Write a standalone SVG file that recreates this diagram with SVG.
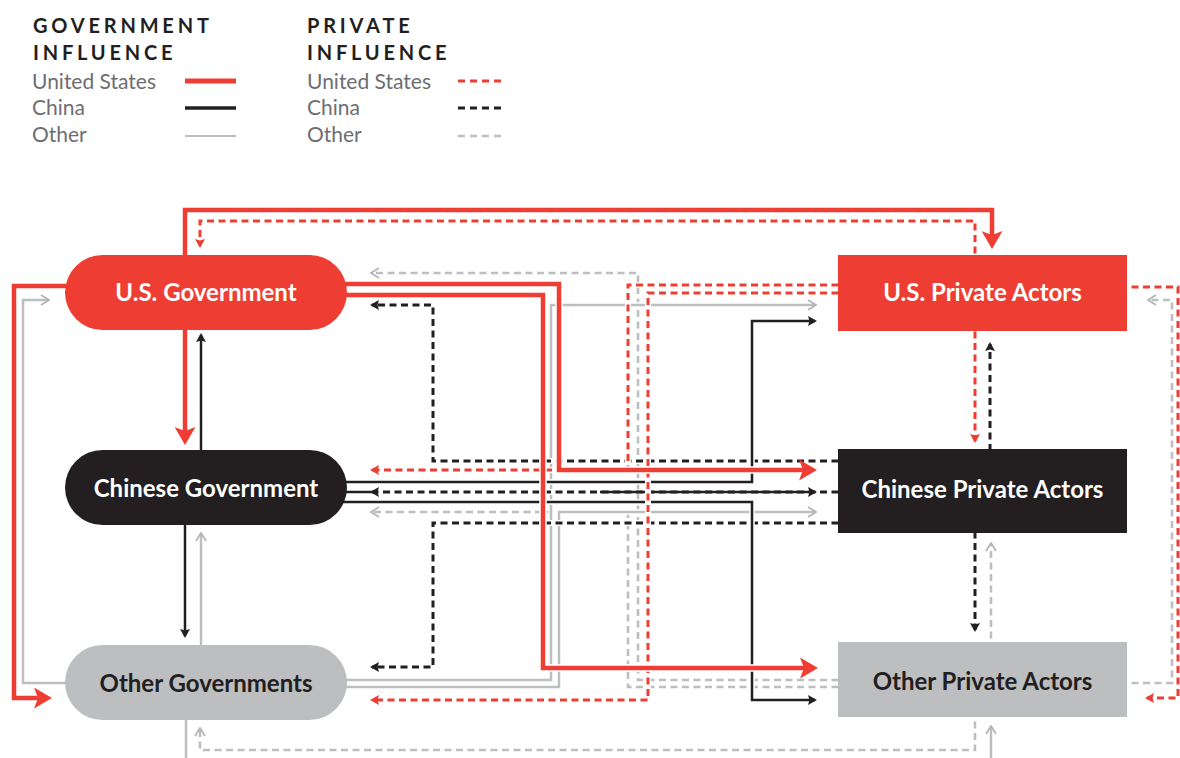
<svg xmlns="http://www.w3.org/2000/svg" width="1180" height="758" viewBox="0 0 1180 758">
<style>
  .hdr{font-family:Lato,"Liberation Sans",sans-serif;font-weight:700;font-size:20px;letter-spacing:3.8px;fill:#231f20}
  .lg{font-family:Lato,"Liberation Sans",sans-serif;font-size:21px;fill:#6d6e71}
  .lbl{font-family:Lato,"Liberation Sans",sans-serif;font-weight:700;font-size:24px;text-anchor:middle}
  .w{fill:#ffffff}
  .d{fill:#231f20}
  path{fill:none}
  .case{stroke:#ffffff}
  .cR{stroke-width:7.5}
  .cS{stroke-width:5.5}
  .cD{stroke-width:6}
  .rs{stroke:#ee3e33;stroke-width:4.5}
  .bs{stroke:#231f20;stroke-width:2.5}
  .gs{stroke:#bcbec0;stroke-width:2.5}
  .rd{stroke:#ee3e33;stroke-width:3;stroke-dasharray:7 4.5}
  .bd{stroke:#231f20;stroke-width:3;stroke-dasharray:7 4.5}
  .gd{stroke:#bcbec0;stroke-width:2.6;stroke-dasharray:7 4.5}
</style>
<defs>
  <marker id="mRB" markerUnits="userSpaceOnUse" viewBox="0 0 18 21" markerWidth="18" markerHeight="21" refX="13" refY="10.5" orient="auto">
    <path d="M0,0 L18,10.5 L0,21 L4,10.5 Z" style="fill:#ee3e33;stroke:none"/>
  </marker>
  <marker id="mB" markerUnits="userSpaceOnUse" viewBox="0 0 9 10" markerWidth="9" markerHeight="10" refX="7" refY="5" orient="auto">
    <path d="M0,0 L9,5 L0,10 L1.5,5 Z" style="fill:#231f20;stroke:none"/>
  </marker>
  <marker id="mRD" markerUnits="userSpaceOnUse" viewBox="0 0 9 10" markerWidth="9" markerHeight="10" refX="7" refY="5" orient="auto">
    <path d="M0,0 L9,5 L0,10 L1.5,5 Z" style="fill:#ee3e33;stroke:none"/>
  </marker>
  <marker id="mG" markerUnits="userSpaceOnUse" viewBox="0 0 10 12" markerWidth="10" markerHeight="12" refX="8" refY="6" orient="auto">
    <path d="M1,1 L9,6 L1,11" style="fill:none;stroke:#b3b5b8;stroke-width:1.8"/>
  </marker>
</defs>

<g id="legend">
  <text class="hdr" x="33" y="33">GOVERNMENT</text>
  <text class="hdr" x="33" y="60">INFLUENCE</text>
  <text class="lg" x="32" y="89">United States</text>
  <text class="lg" x="32" y="115">China</text>
  <text class="lg" x="32" y="142">Other</text>
  <line x1="185" y1="81" x2="236" y2="81" style="stroke:#ee3e33;stroke-width:5"/>
  <line x1="185" y1="108" x2="236" y2="108" style="stroke:#231f20;stroke-width:3.5"/>
  <line x1="185" y1="136" x2="236" y2="136" style="stroke:#bcbec0;stroke-width:2"/>
  <text class="hdr" x="307" y="33">PRIVATE</text>
  <text class="hdr" x="307" y="60">INFLUENCE</text>
  <text class="lg" x="307" y="89">United States</text>
  <text class="lg" x="307" y="115">China</text>
  <text class="lg" x="307" y="142">Other</text>
  <line x1="458" y1="81" x2="505" y2="81" style="stroke:#ee3e33;stroke-width:3;stroke-dasharray:7 5"/>
  <line x1="458" y1="108" x2="505" y2="108" style="stroke:#231f20;stroke-width:3;stroke-dasharray:7 5"/>
  <line x1="458" y1="136" x2="505" y2="136" style="stroke:#bcbec0;stroke-width:2.5;stroke-dasharray:7 5"/>
</g>

<g id="connectors">
  <!-- gray dashed: other private influence -->
  <path class="case cD" d="M850,680 H638 V273 H372"/>
  <path class="gd" d="M850,680 H638 V273 H372" marker-end="url(#mG)"/>
  <path class="case cD" d="M850,687 H628 V512 H372"/>
  <path class="gd" d="M850,687 H628 V512 H372" marker-end="url(#mG)"/>
  <path class="case cD" d="M1120,683 H1172 V300 H1149"/>
  <path class="gd" d="M1120,683 H1172 V300 H1149" marker-end="url(#mG)"/>
  <path class="case cD" d="M991,650 V544"/>
  <path class="gd" d="M991,650 V544" marker-end="url(#mG)"/>
  <path class="case cD" d="M975,710 V750 H200 V729"/>
  <path class="gd" d="M975,710 V750 H200 V729" marker-end="url(#mG)"/>

  <!-- gray solid: other government influence -->
  <path class="case cS" d="M201,655 V534"/>
  <path class="gs" d="M201,655 V534" marker-end="url(#mG)"/>
  <path class="case cS" d="M80,683 H23 V300 H48"/>
  <path class="gs" d="M80,683 H23 V300 H48" marker-end="url(#mG)"/>
  <path class="case cS" d="M330,680 H551 V305 H815"/>
  <path class="gs" d="M330,680 H551 V305 H815" marker-end="url(#mG)"/>
  <path class="case cS" d="M330,687 H559 V512 H815"/>
  <path class="gs" d="M330,687 H559 V512 H815" marker-end="url(#mG)"/>
  <path class="gs" d="M186,710 V775 H991 V727" marker-end="url(#mG)"/>

  <!-- black dashed: chinese private influence -->
  <path class="case cD" d="M850,461 H433 V305 H372"/>
  <path class="bd" d="M850,461 H433 V305 H372" marker-end="url(#mB)"/>
  <path class="case cD" d="M850,523 H433 V667 H372"/>
  <path class="bd" d="M850,523 H433 V667 H372" marker-end="url(#mB)"/>
  <path class="case cD" d="M990,520 V344"/>
  <path class="bd" d="M990,520 V344" marker-end="url(#mB)"/>
  <path class="case cD" d="M975,520 V630"/>
  <path class="bd" d="M975,520 V630" marker-end="url(#mB)"/>

  <!-- black solid: chinese government influence -->
  <path class="case cS" d="M201,460 V335"/>
  <path class="bs" d="M201,460 V335" marker-end="url(#mB)"/>
  <path class="case cS" d="M185,515 V636"/>
  <path class="bs" d="M185,515 V636" marker-end="url(#mB)"/>
  <path class="case cS" d="M330,482 H752 V321 H815"/>
  <path class="bs" d="M330,482 H752 V321 H815" marker-end="url(#mB)"/>
  <path class="case cS" d="M330,502 H752 V700 H815"/>
  <path class="bs" d="M330,502 H752 V700 H815" marker-end="url(#mB)"/>
  <path class="bs" d="M330,492 H815" marker-end="url(#mB)"/>
  <path class="case cD" d="M600,492 H372"/>
  <path class="bd" d="M850,492 H372" marker-end="url(#mB)"/>

  <!-- red dashed: U.S. private influence -->
  <path class="case cD" d="M975,265 V221 H200 V246"/>
  <path class="rd" d="M975,265 V221 H200 V246" marker-end="url(#mRD)"/>
  <path class="case cD" d="M850,285 H628 V470 H372"/>
  <path class="rd" d="M850,285 H628 V470 H372" marker-end="url(#mRD)"/>
  <path class="case cD" d="M850,293 H648 V700 H372"/>
  <path class="rd" d="M850,293 H648 V700 H372" marker-end="url(#mRD)"/>
  <path class="case cD" d="M975,320 V441"/>
  <path class="rd" d="M975,320 V441" marker-end="url(#mRD)"/>
  <path class="case cD" d="M1120,287 H1178 V698 H1147"/>
  <path class="rd" d="M1120,287 H1178 V698 H1147" marker-end="url(#mRD)"/>

  <!-- red solid: U.S. government influence -->
  <path class="case cR" d="M185,265 V210 H992 V244"/>
  <path class="rs" d="M185,265 V210 H992 V244" marker-end="url(#mRB)"/>
  <path class="case cR" d="M185,320 V440"/>
  <path class="rs" d="M185,320 V440" marker-end="url(#mRB)"/>
  <path class="case cR" d="M80,286 H14 V698 H47"/>
  <path class="rs" d="M80,286 H14 V698 H47" marker-end="url(#mRB)"/>
  <path class="case cR" d="M330,284 H559 V470 H812"/>
  <path class="rs" d="M330,284 H559 V470 H812" marker-end="url(#mRB)"/>
  <path class="case cR" d="M330,295 H543 V668 H813"/>
  <path class="rs" d="M330,295 H543 V668 H813" marker-end="url(#mRB)"/>
</g>

<g id="node-us-gov">
  <rect x="65" y="255" width="282" height="75" rx="37.5" style="fill:#ee3e33"/>
  <text class="lbl w" x="206" y="301">U.S. Government</text>
</g>
<g id="node-cn-gov">
  <rect x="65" y="450" width="282" height="75" rx="37.5" style="fill:#231f20"/>
  <text class="lbl w" x="206" y="497">Chinese Government</text>
</g>
<g id="node-other-gov">
  <rect x="65" y="645" width="282" height="75" rx="37.5" style="fill:#bcbec0"/>
  <text class="lbl d" x="206" y="692">Other Governments</text>
</g>
<g id="node-us-private">
  <rect x="838" y="255" width="289" height="76" style="fill:#ee3e33"/>
  <text class="lbl w" x="982.5" y="301">U.S. Private Actors</text>
</g>
<g id="node-cn-private">
  <rect x="838" y="449" width="289" height="84" style="fill:#231f20"/>
  <text class="lbl w" x="982.5" y="498">Chinese Private Actors</text>
</g>
<g id="node-other-private">
  <rect x="838" y="642" width="289" height="75" style="fill:#bcbec0"/>
  <text class="lbl d" x="982.5" y="690">Other Private Actors</text>
</g>
</svg>
